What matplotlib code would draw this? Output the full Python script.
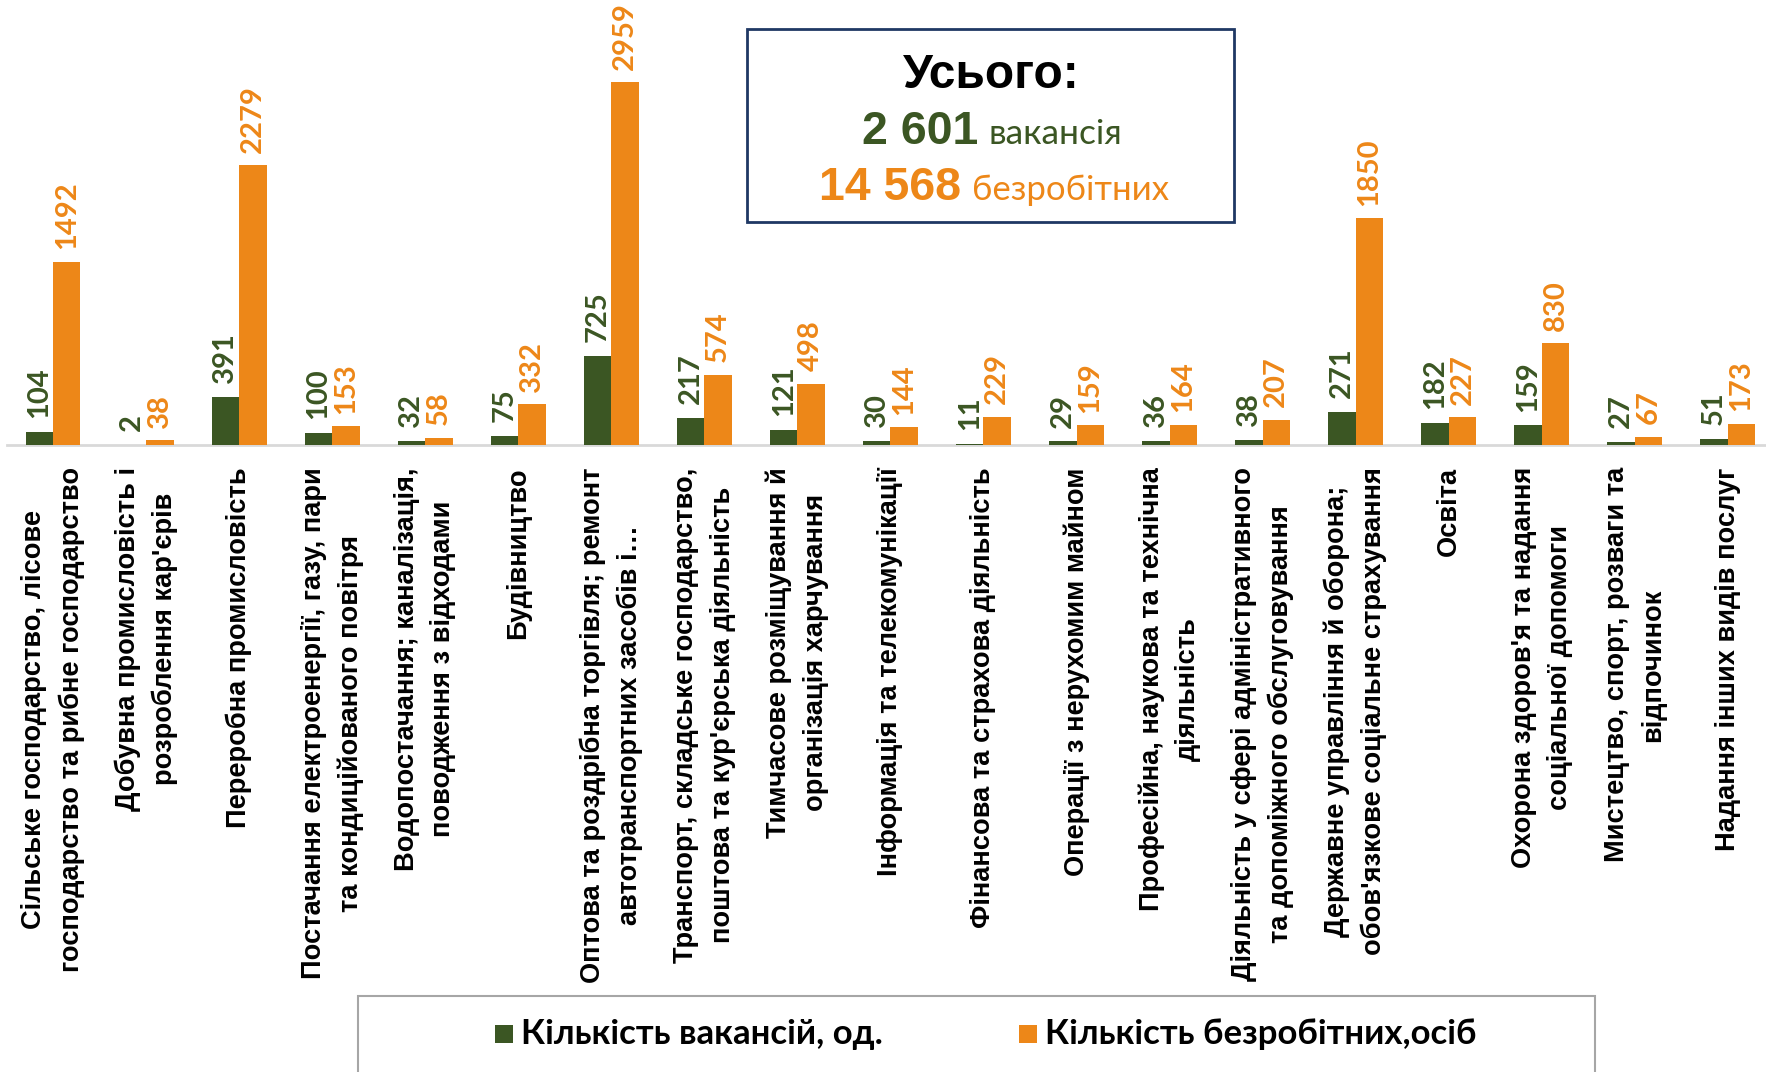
import numpy as np
import matplotlib
matplotlib.use("Agg")
import matplotlib.pyplot as plt
from matplotlib.patches import Rectangle

categories = [
    "Сільське господарство, лісове\nгосподарство та рибне господарство",
    "Добувна промисловість і\nрозроблення кар'єрів",
    "Переробна промисловість",
    "Постачання електроенергії, газу, пари\nта кондиційованого повітря",
    "Водопостачання; каналізація,\nповодження з відходами",
    "Будівництво",
    "Оптова та роздрібна торгівля; ремонт\nавтотранспортних засобів і…",
    "Транспорт, складське господарство,\nпоштова та кур'єрська діяльність",
    "Тимчасове розміщування й\nорганізація харчування",
    "Інформація та телекомунікації",
    "Фінансова та страхова діяльність",
    "Операції з нерухомим майном",
    "Професійна, наукова та технічна\nдіяльність",
    "Діяльність у сфері адміністративного\nта допоміжного обслуговування",
    "Державне управління й оборона;\nобов'язкове соціальне страхування",
    "Освіта",
    "Охорона здоров'я та надання\nсоціальної допомоги",
    "Мистецтво, спорт, розваги та\nвідпочинок",
    "Надання інших видів послуг",
]
vacancies = [104, 2, 391, 100, 32, 75, 725, 217, 121, 30, 11, 29, 36, 38, 271, 182, 159, 27, 51]
unemployed = [1492, 38, 2279, 153, 58, 332, 2959, 574, 498, 144, 229, 159, 164, 207, 1850, 227, 830, 67, 173]
series_names = ["Кількість вакансій, од.", "Кількість безробітних,осіб"]
total_vac = "2 601"
total_unemp = "14 568"

GREEN = "#3B5623"
ORANGE = "#ED8718"

W, H = 1766, 1072
fig = plt.figure(figsize=(W / 100, H / 100), dpi=100)

def fx(px):
    return px / W

def fy(py):
    return 1 - py / H

base_y = 445
ax = fig.add_axes([fx(6.5), fy(base_y), fx(1766 - 6.5), base_y / H])
x = np.arange(len(categories))
bw = 0.295
ax.bar(x - bw / 2, vacancies, bw, color=GREEN, zorder=3)
ax.bar(x + bw / 2, unemployed, bw, color=ORANGE, zorder=3)
ax.set_xlim(-0.5, 18.41)
ax.set_ylim(0, base_y / (363 / 2959))
for s in ["top", "right", "left"]:
    ax.spines[s].set_visible(False)
ax.spines["bottom"].set_color("#D9D9D9")
ax.spines["bottom"].set_linewidth(2)
ax.set_yticks([])
ax.set_xticks(x)
ax.set_xticklabels(categories, rotation=90, fontsize=19.6, fontweight="bold",
                   family="Liberation Sans", linespacing=1.52, multialignment="center")
ax.tick_params(axis="x", length=0, pad=16)

for xi, v in zip(x, vacancies):
    ax.annotate(str(v), (xi - bw / 2, v), xytext=(0, 10), textcoords="offset points",
                rotation=90, ha="center", va="bottom", fontsize=21, fontweight="bold",
                color=GREEN, family="Lato", annotation_clip=False)
for xi, v in zip(x, unemployed):
    ax.annotate(str(v), (xi + bw / 2, v), xytext=(0, 9), textcoords="offset points",
                rotation=90, ha="center", va="bottom", fontsize=21, fontweight="bold",
                color=ORANGE, family="Lato", annotation_clip=False)

# totals box
fig.add_artist(Rectangle((fx(747), fy(222)), fx(487), 193 / H, transform=fig.transFigure,
                         facecolor="white", edgecolor="#1F3864", linewidth=2))
fig.text(fx(991), fy(88), "Усього:", ha="center", va="baseline", fontsize=34.5,
         fontweight="bold", family="Liberation Sans", color="black")
fig.text(fx(862), fy(144), total_vac, ha="left", va="baseline", fontsize=33.5,
         fontweight="bold", family="Liberation Sans", color=GREEN)
fig.text(fx(989), fy(144), "вакансія", ha="left", va="baseline", fontsize=25.5,
         family=["Lato", "Open Sans"], color=GREEN)
fig.text(fx(819), fy(200), total_unemp, ha="left", va="baseline", fontsize=33.5,
         fontweight="bold", family="Liberation Sans", color=ORANGE)
fig.text(fx(972), fy(200), "безробітних", ha="left", va="baseline", fontsize=25,
         family=["Lato", "Open Sans"], color=ORANGE)

# legend
fig.add_artist(Rectangle((fx(358), fy(1080)), fx(1595 - 358), 84 / H, transform=fig.transFigure,
                         facecolor="white", edgecolor="#A6A6A6", linewidth=1.5))
for sx, col, name in [(495, GREEN, series_names[0]), (1019, ORANGE, series_names[1])]:
    fig.add_artist(Rectangle((fx(sx), fy(1043)), fx(18), 18 / H, transform=fig.transFigure,
                             facecolor=col, edgecolor="none"))
    fig.text(fx(sx + 26), fy(1034), name, ha="left", va="center", fontsize=25,
             fontweight="bold", family=["Lato", "Open Sans"], color="black")

fig.savefig("out.png", dpi=100, facecolor="white")
